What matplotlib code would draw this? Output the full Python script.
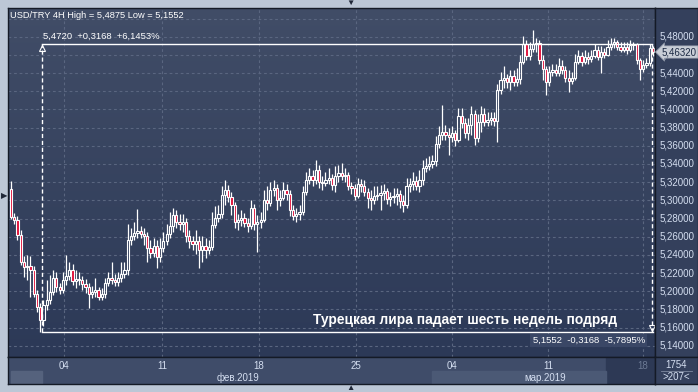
import numpy as np
import matplotlib
matplotlib.use('Agg')
import matplotlib.pyplot as plt
from matplotlib.colors import LinearSegmentedColormap

plt.rcParams['font.family'] = ['Liberation Sans', 'DejaVu Sans']

# ---------------- data (USD/TRY, 4H candles) ----------------
first_open = 5.3125
close = [
    5.2817, 5.2784, 5.2619, 5.2322, 5.2267, 5.2278, 5.2234, 5.1970, 5.1827, 5.1684,
    5.1849, 5.1904, 5.1992, 5.2146, 5.2047, 5.2014, 5.2124, 5.2168, 5.2234, 5.2113,
    5.2135, 5.2124, 5.2080, 5.2047, 5.1970, 5.1992, 5.2014, 5.1937, 5.1970, 5.2091,
    5.2146, 5.2124, 5.2102, 5.2146, 5.2190, 5.2234, 5.2564, 5.2608, 5.2641, 5.2663,
    5.2630, 5.2608, 5.2476, 5.2421, 5.2498, 5.2377, 5.2476, 5.2553, 5.2630, 5.2718,
    5.2839, 5.2762, 5.2740, 5.2762, 5.2608, 5.2553, 5.2520, 5.2553, 5.2454, 5.2498,
    5.2454, 5.2487, 5.2729, 5.2806, 5.2850, 5.3059, 5.3114, 5.3037, 5.2949, 5.2762,
    5.2784, 5.2806, 5.2751, 5.2718, 5.2916, 5.2740, 5.2762, 5.2784, 5.3004, 5.2971,
    5.3114, 5.3136, 5.3004, 5.3026, 5.3114, 5.3070, 5.2894, 5.2828, 5.2850, 5.2872,
    5.3092, 5.3224, 5.3268, 5.3224, 5.3334, 5.3202, 5.3191, 5.3224, 5.3246, 5.3169,
    5.3268, 5.3301, 5.3268, 5.3279, 5.3158, 5.3136, 5.3048, 5.3180, 5.3158, 5.3092,
    5.3026, 5.3004, 5.3048, 5.3059, 5.3081, 5.3103, 5.3015, 5.3037, 5.3048, 5.3070,
    5.2993, 5.2949, 5.3158, 5.3180, 5.3213, 5.3158, 5.3224, 5.3356, 5.3378, 5.3400,
    5.3433, 5.3620, 5.3719, 5.3752, 5.3719, 5.3697, 5.3741, 5.3664, 5.3928, 5.3851,
    5.3741, 5.3829, 5.3950, 5.3686, 5.3862, 5.3950, 5.3862, 5.3884, 5.3906, 5.3873,
    5.4214, 5.4324, 5.4346, 5.4302, 5.4368, 5.4302, 5.4335, 5.4522, 5.4720, 5.4588,
    5.4665, 5.4720, 5.4731, 5.4544, 5.4445, 5.4302, 5.4412, 5.4434, 5.4401, 5.4478,
    5.4434, 5.4346, 5.4313, 5.4346, 5.4522, 5.4588, 5.4522, 5.4577, 5.4555, 5.4588,
    5.4654, 5.4577, 5.4632, 5.4599, 5.4687, 5.4720, 5.4742, 5.4687, 5.4654, 5.4687,
    5.4654, 5.4709, 5.4720, 5.4544, 5.4445, 5.4489, 5.4511, 5.4676, 5.4632,
]
high = [
    5.3213, 5.2861, 5.2828, 5.2674, 5.2388, 5.2399, 5.2388, 5.2278, 5.2014, 5.1871,
    5.1904, 5.2124, 5.2179, 5.2234, 5.2212, 5.2091, 5.2212, 5.2399, 5.2322, 5.2300,
    5.2234, 5.2212, 5.2168, 5.2135, 5.2091, 5.2058, 5.2146, 5.2047, 5.2036, 5.2146,
    5.2212, 5.2322, 5.2190, 5.2212, 5.2322, 5.2322, 5.2740, 5.2696, 5.2762, 5.2905,
    5.2718, 5.2696, 5.2652, 5.2564, 5.2586, 5.2564, 5.2586, 5.2652, 5.2740, 5.2872,
    5.2916, 5.2894, 5.2850, 5.2850, 5.2806, 5.2674, 5.2608, 5.2674, 5.2608, 5.2608,
    5.2586, 5.2564, 5.2872, 5.2938, 5.2949, 5.3158, 5.3224, 5.3169, 5.3092, 5.2982,
    5.2850, 5.2894, 5.2861, 5.2806, 5.3004, 5.2960, 5.2839, 5.2872, 5.3114, 5.3158,
    5.3202, 5.3224, 5.3180, 5.3114, 5.3202, 5.3180, 5.3114, 5.2949, 5.2916, 5.2949,
    5.3158, 5.3312, 5.3356, 5.3334, 5.3444, 5.3389, 5.3268, 5.3312, 5.3356, 5.3290,
    5.3378, 5.3389, 5.3411, 5.3356, 5.3312, 5.3202, 5.3180, 5.3246, 5.3235, 5.3224,
    5.3136, 5.3114, 5.3158, 5.3158, 5.3169, 5.3180, 5.3136, 5.3092, 5.3136, 5.3136,
    5.3114, 5.3059, 5.3246, 5.3246, 5.3312, 5.3268, 5.3334, 5.3444, 5.3466, 5.3488,
    5.3499, 5.3708, 5.3818, 5.4049, 5.3829, 5.3796, 5.3818, 5.3774, 5.4016, 5.4016,
    5.3906, 5.3906, 5.4038, 5.3994, 5.3950, 5.4038, 5.4016, 5.3972, 5.3972, 5.3972,
    5.4280, 5.4412, 5.4478, 5.4390, 5.4434, 5.4434, 5.4456, 5.4599, 5.4808, 5.4764,
    5.4742, 5.4875, 5.4786, 5.4764, 5.4599, 5.4478, 5.4478, 5.4500, 5.4500, 5.4566,
    5.4544, 5.4478, 5.4434, 5.4412, 5.4610, 5.4654, 5.4632, 5.4654, 5.4632, 5.4654,
    5.4720, 5.4698, 5.4698, 5.4676, 5.4764, 5.4786, 5.4786, 5.4764, 5.4742, 5.4742,
    5.4742, 5.4764, 5.4742, 5.4731, 5.4566, 5.4544, 5.4566, 5.4720, 5.4698,
]
low = [
    5.2795, 5.2740, 5.2564, 5.2289, 5.2157, 5.2124, 5.1937, 5.1937, 5.1772, 5.1552,
    5.1618, 5.1794, 5.1860, 5.1959, 5.1992, 5.1970, 5.1981, 5.2069, 5.2124, 5.2069,
    5.2036, 5.2069, 5.2014, 5.1981, 5.1816, 5.1926, 5.1937, 5.1904, 5.1904, 5.1926,
    5.2058, 5.2080, 5.2058, 5.2058, 5.2102, 5.2146, 5.2179, 5.2509, 5.2564, 5.2586,
    5.2586, 5.2509, 5.2322, 5.2366, 5.2377, 5.2256, 5.2322, 5.2432, 5.2509, 5.2586,
    5.2652, 5.2696, 5.2674, 5.2652, 5.2542, 5.2476, 5.2454, 5.2410, 5.2256, 5.2322,
    5.2366, 5.2410, 5.2454, 5.2696, 5.2762, 5.2806, 5.2949, 5.2982, 5.2839, 5.2696,
    5.2674, 5.2718, 5.2707, 5.2652, 5.2685, 5.2674, 5.2432, 5.2696, 5.2762, 5.2894,
    5.2938, 5.3048, 5.2894, 5.2938, 5.3004, 5.3004, 5.2828, 5.2784, 5.2762, 5.2784,
    5.2839, 5.3059, 5.3180, 5.3158, 5.3180, 5.3136, 5.3114, 5.3158, 5.3180, 5.3114,
    5.3092, 5.3202, 5.3224, 5.3202, 5.3114, 5.3070, 5.3004, 5.3026, 5.3092, 5.3048,
    5.2916, 5.2894, 5.2960, 5.3004, 5.2894, 5.3004, 5.2960, 5.2938, 5.2971, 5.2949,
    5.2916, 5.2872, 5.2916, 5.3092, 5.3114, 5.3114, 5.3092, 5.3169, 5.3312, 5.3334,
    5.3356, 5.3378, 5.3576, 5.3664, 5.3664, 5.3499, 5.3642, 5.3598, 5.3642, 5.3796,
    5.3686, 5.3664, 5.3719, 5.3609, 5.3642, 5.3752, 5.3818, 5.3818, 5.3829, 5.3818,
    5.3642, 5.4170, 5.4236, 5.4236, 5.4214, 5.4258, 5.4258, 5.4280, 5.4500, 5.4544,
    5.4544, 5.4632, 5.4632, 5.4500, 5.4324, 5.4159, 5.4258, 5.4368, 5.4368, 5.4368,
    5.4390, 5.4302, 5.4192, 5.4280, 5.4324, 5.4500, 5.4478, 5.4500, 5.4500, 5.4522,
    5.4566, 5.4544, 5.4401, 5.4566, 5.4588, 5.4654, 5.4676, 5.4654, 5.4632, 5.4632,
    5.4610, 5.4632, 5.4654, 5.4500, 5.4324, 5.4412, 5.4456, 5.4478, 5.4588,
]
date_labels = ['04', '11', '18', '25', '04', '11', '18']
date_pos = [16.35, 46.6, 76.5, 106.4, 136.0, 165.6, 194.9]
month_labels = ['фев.2019', 'мар.2019']
month_pos = [70.0, 164.7]
price_ticks = [5.14, 5.16, 5.18, 5.20, 5.22, 5.24, 5.26, 5.28, 5.30, 5.32,
               5.34, 5.36, 5.38, 5.40, 5.42, 5.44, 5.46, 5.48]
grid_prices = price_ticks + [5.50]
range_low, range_high = 5.1552, 5.4720
range_start, range_end = 9.6, 197.7
last_price = 5.4632
bars_total, bars_visible = '1754', '>207<'
headline = 'Турецкая лира падает шесть недель подряд'

# ---------------- figure ----------------
W, H = 698, 392
fig = plt.figure(figsize=(W / 100, H / 100), dpi=100)
fig.patch.set_facecolor('#bcc7d6')

def fr(x0, y0, x1, y1):
    return [x0 / W, 1 - y1 / H, (x1 - x0) / W, (y1 - y0) / H]

XLIM = (-0.925, 198.64)
YLIM = (5.1277, 5.5116)

ax = fig.add_axes(fr(8, 8, 655, 357))
ax.set_xlim(*XLIM)
ax.set_ylim(*YLIM)
cmap = LinearSegmentedColormap.from_list('bg', ['#2c3957', '#414d67'])
ax.imshow(np.linspace(0, 1, 256).reshape(-1, 1), extent=[*XLIM, *YLIM],
          origin='lower', aspect='auto', cmap=cmap, zorder=0)
ax.set_xticks([]); ax.set_yticks([])
for s in ax.spines.values():
    s.set_color('#141a26'); s.set_linewidth(1.0)

# grid
for p in grid_prices:
    ax.axhline(p, color='#5a6680', lw=0.8, ls=(0, (2.5, 2.5)), zorder=1)
for d in date_pos:
    ax.axvline(d, color='#5a6680', lw=0.8, ls=(0, (2.5, 2.5)), zorder=1)

# candles
o = np.array([first_open] + close[:-1])
c = np.array(close)
h = np.array(high)
l = np.array(low)
idx = np.arange(len(c))
top = np.maximum(o, c)
bot = np.minimum(o, c)
ax.vlines(idx, top, h, color='white', lw=0.9, zorder=3)
ax.vlines(idx, l, bot, color='white', lw=0.9, zorder=3)
bear = c < o
ax.bar(idx[bear], (o - c)[bear], bottom=c[bear], width=0.68,
       color='#e0103a', edgecolor='white', linewidth=0.8, zorder=4)
ax.bar(idx[~bear], (c - o)[~bear], bottom=o[~bear], width=0.68,
       color='none', edgecolor='white', linewidth=0.8, zorder=4)

# range measurement
ax.plot([range_start, range_end], [range_high, range_high], color='white', lw=1.0, zorder=5)
ax.plot([range_start, range_end + 0.4], [range_low, range_low], color='white', lw=1.0, zorder=5)
ax.plot([range_start, range_start], [range_low, range_high], color='white', lw=1.0,
        ls=(0, (3, 2)), zorder=5)
ax.plot([range_end, range_end], [range_low, range_high], color='white', lw=1.0,
        ls=(0, (3, 2)), zorder=5)
ax.plot([range_start], [range_high - 0.004], marker='^', ms=4, mfc='none', mec='white', mew=0.8, zorder=5)
ax.plot([range_end], [range_low + 0.004], marker='v', ms=4, mfc='none', mec='white', mew=0.8, zorder=5)

diff = range_high - range_low
fmt = lambda v: f'{v:.4f}'.replace('.', ',')
up_txt = f'{fmt(range_high)}  +{fmt(diff)}  +{diff / range_low * 100:.4f}%'.replace('.', ',')
dn_txt = f'{fmt(range_low)}  -{fmt(diff)}  -{diff / range_high * 100:.4f}%'.replace('.', ',')
ax.text(range_start + 0.3, range_high + 0.0085, up_txt, color='white', fontsize=6.8,
        va='center', ha='left', zorder=6)
ax.text(range_end - 2.2, range_low - 0.0094, dn_txt, color='white', fontsize=6.8,
        va='center', ha='right', zorder=6,
        bbox=dict(boxstyle='square,pad=0.25', fc='#3a4766', ec='none'))

ax.text(93.0, 5.1684, headline, color='white', fontsize=9.9, fontweight='bold',
        va='center', ha='left', zorder=6)

fig.text(10 / W, 1 - 15 / H, 'USD/TRY 4H High = 5,4875 Low = 5,1552', color='white',
         fontsize=6.7, va='center', ha='left')

# right price panel
axr = fig.add_axes(fr(655, 8, 698, 357))
axr.set_facecolor('#34405c')
axr.set_ylim(*YLIM); axr.set_xlim(0, 1)
axr.set_xticks([]); axr.set_yticks([])
for s in axr.spines.values():
    s.set_color('#141a26'); s.set_linewidth(1.0)
for p in price_ticks:
    axr.text(0.1, p, f'{p:.5f}'.replace('.', ','), color='#d4def0', fontsize=7,
             va='center', ha='left', zorder=2)
axr.text(0.16, last_price, f'{last_price:.5f}'.replace('.', ','), color='#1c2a44',
         fontsize=7, va='center', ha='left', zorder=5,
         bbox=dict(boxstyle='larrow,pad=0.12', fc='#c8cdd6', ec='#8a93a4', lw=0.5))

# bottom date panel
axb = fig.add_axes(fr(8, 357, 655, 384))
axb.set_facecolor('#3f4c69')
axb.set_xlim(*XLIM); axb.set_ylim(0, 1)
axb.set_xticks([]); axb.set_yticks([])
for s in axb.spines.values():
    s.set_color('#141a26'); s.set_linewidth(1.0)
axb.axvspan(183.5, XLIM[1], color='#2d3955', zorder=0)
axb.axvspan(130.0, 183.5, ymin=0, ymax=0.48, color='#4b5975', zorder=0)
axb.axvspan(0.0, 9.6, ymin=0, ymax=0.48, color='#55627d', zorder=0)
for i, (d, lab) in enumerate(zip(date_pos, date_labels)):
    col = '#6c7a94' if i == len(date_pos) - 1 else '#d4def0'
    axb.text(d, 0.67, lab, color=col, fontsize=7, ha='center', va='center')
for m, lab in zip(month_pos, month_labels):
    axb.text(m, 0.24, lab, color='#d4def0', fontsize=7, ha='center', va='center')

axbr = fig.add_axes(fr(655, 357, 698, 384))
axbr.set_facecolor('#34405c')
axbr.set_xticks([]); axbr.set_yticks([])
axbr.set_xlim(0, 1); axbr.set_ylim(0, 1)
for s in axbr.spines.values():
    s.set_color('#141a26'); s.set_linewidth(1.0)
axbr.text(0.5, 0.72, bars_total, color='#d4def0', fontsize=7, ha='center', va='center')
axbr.plot([0.15, 0.85], [0.5, 0.5], color='#7f8aa0', lw=0.6)
axbr.text(0.5, 0.26, bars_visible, color='#d4def0', fontsize=7, ha='center', va='center')

# frame markers
fig.text(350 / W, 1 - 3 / H, '▼', color='#1f2738', fontsize=6, ha='center', va='center')
fig.text(350 / W, 1 - 389 / H, '▲', color='#1f2738', fontsize=6, ha='center', va='center')
fig.text(4 / W, 1 - 197 / H, '▶', color='#1f2738', fontsize=6, ha='center', va='center')

fig.savefig('out.png', dpi=100, facecolor=fig.get_facecolor())
